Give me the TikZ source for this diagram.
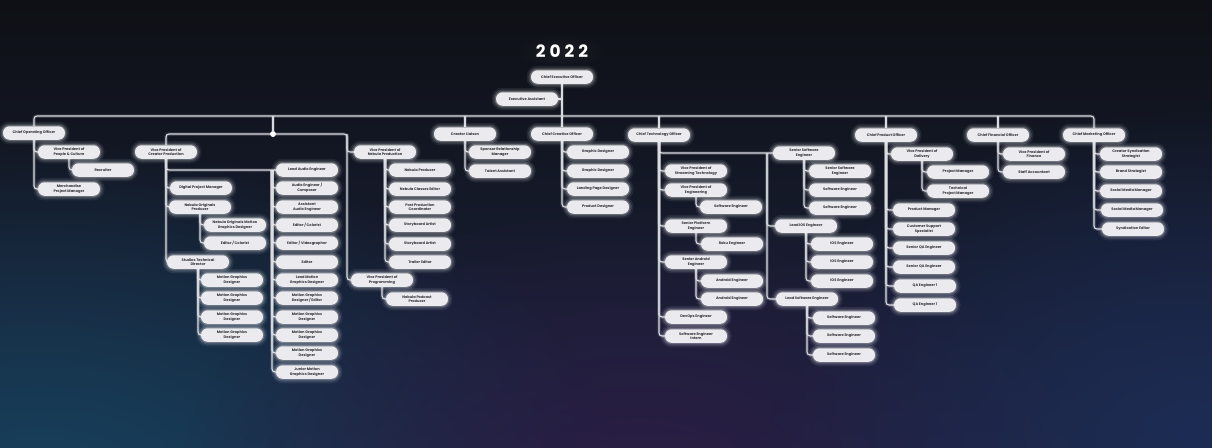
\documentclass[tikz,border=0pt]{standalone}
\usepackage{fontspec}
\setmainfont{Poppins}
\usetikzlibrary{fadings,backgrounds}
\definecolor{bgtop}{HTML}{0E1015}
\definecolor{bgmid}{HTML}{131A26}
\definecolor{bgbot}{HTML}{1C2440}
\definecolor{tealglow}{HTML}{16445F}
\definecolor{purpglow}{HTML}{2C1C44}
\definecolor{navyglow}{HTML}{1D2D56}
\definecolor{boxfill}{HTML}{EBEBEF}
\definecolor{boxtext}{HTML}{34343C}
\definecolor{linecol}{HTML}{D8DAE1}
\tikzfading[name=softglow, inner color=transparent!10, outer color=transparent!100]
\tikzset{
  orgbox/.style={fill=boxfill, text=boxtext, rounded corners=6.5pt,
    minimum width=62pt, minimum height=13.5pt, inner sep=0pt, align=center,
    font=\bfseries\fontsize{3.6}{4.6}\selectfont,
    preaction={draw=white, draw opacity=0.07, line width=9pt},
    preaction={draw=white, draw opacity=0.12, line width=5.5pt},
    preaction={draw=white, draw opacity=0.22, line width=2.5pt}},
  link/.style={draw=linecol, line width=1.1pt, rounded corners=3pt,
    preaction={draw=white, draw opacity=0.14, line width=3.5pt}}
}
\begin{document}
\begin{tikzpicture}[x=1pt,y=-1pt]
\useasboundingbox (0,0) rectangle (1212,447);
% ---------- nodes ----------
\node[font=\bfseries\fontsize{17}{17}\selectfont, text=white] (title) at (562,51) {2\hspace{4pt}0\hspace{4pt}2\hspace{4pt}2};
\node[orgbox] (ceo) at (562,77) {Chief Executive Officer};
\node[orgbox] (ea) at (527,99) {Executive Assistant};
% COO
\node[orgbox] (coo) at (34,133) {Chief Operating Officer};
\node[orgbox] (vppc) at (69,152) {Vice President of\\People \& Culture};
\node[orgbox] (recr) at (103,170) {Recruiter};
\node[orgbox] (mpm) at (69,189) {Merchandise\\Project Manager};
% Creator production
\node[circle, fill=white, inner sep=0pt, minimum size=6pt] (dot) at (273,134) {};
\node[orgbox] (vpcp) at (166,152) {Vice President of\\Creator Production};
\node[orgbox] (dpm) at (201,188) {Digital Project Manager};
\node[orgbox] (nop) at (200,207) {Nebula Originals\\Producer};
\node[orgbox] (nomgd) at (235,225) {Nebula Originals Motion\\Graphics Designer};
\node[orgbox] (ecA) at (235,243) {Editor / Colorist};
\node[orgbox] (std) at (198,262) {Studios Technical\\Director};
\node[orgbox] (mgA) at (232,280) {Motion Graphics\\Designer};
\node[orgbox] (mgB) at (232,298) {Motion Graphics\\Designer};
\node[orgbox] (mgC) at (232,317) {Motion Graphics\\Designer};
\node[orgbox] (mgD) at (232,335) {Motion Graphics\\Designer};
\node[orgbox] (lae) at (307,170) {Lead Audio Engineer};
\node[orgbox] (aec) at (307,188) {Audio Engineer /\\Composer};
\node[orgbox] (aae) at (307,207) {Assistant\\Audio Engineer};
\node[orgbox] (ecB) at (307,225) {Editor / Colorist};
\node[orgbox] (ev) at (307,243) {Editor / Videographer};
\node[orgbox] (ed) at (307,262) {Editor};
\node[orgbox] (lmg) at (307,280) {Lead Motion\\Graphics Designer};
\node[orgbox] (mge) at (307,298) {Motion Graphics\\Designer / Editor};
\node[orgbox] (mgE) at (307,317) {Motion Graphics\\Designer};
\node[orgbox] (mgF) at (307,335) {Motion Graphics\\Designer};
\node[orgbox] (mgG) at (307,353) {Motion Graphics\\Designer};
\node[orgbox] (jmg) at (307,372) {Junior Motion\\Graphics Designer};
% Nebula production
\node[orgbox] (vpnp) at (385,152) {Vice President of\\Nebula Production};
\node[orgbox] (np) at (420,170) {Nebula Producer};
\node[orgbox] (nce) at (420,189) {Nebula Classes Editor};
\node[orgbox] (ppc) at (420,207) {Post Production\\Coordinator};
\node[orgbox] (saA) at (420,225) {Storyboard Artist};
\node[orgbox] (saB) at (420,244) {Storyboard Artist};
\node[orgbox] (te) at (420,262) {Trailer Editor};
\node[orgbox] (vpprog) at (382,280) {Vice President of\\Programming};
\node[orgbox] (npp) at (417,299) {Nebula Podcast\\Producer};
% Creator liaison
\node[orgbox] (cl) at (465,134) {Creator Liaison};
\node[orgbox] (srm) at (500,152) {Sponsor Relationship\\Manager};
\node[orgbox] (ta) at (500,171) {Talent Assistant};
% CCO
\node[orgbox] (cco) at (562,134) {Chief Creative Officer};
\node[orgbox] (gdA) at (598,152) {Graphic Designer};
\node[orgbox] (gdB) at (598,171) {Graphic Designer};
\node[orgbox] (lpd) at (598,189) {Landing Page Designer};
\node[orgbox] (pd) at (598,207) {Product Designer};
% CTO
\node[orgbox] (cto) at (659,135) {Chief Technology Officer};
\node[orgbox] (vpst) at (696,171) {Vice President of\\Streaming Technology};
\node[orgbox] (vpe) at (696,190) {Vice President of\\Engineering};
\node[orgbox] (seA) at (731,207) {Software Engineer};
\node[orgbox] (spe) at (696,226) {Senior Platform\\Engineer};
\node[orgbox] (roku) at (732,244) {Roku Engineer};
\node[orgbox] (sae) at (696,262) {Senior Android\\Engineer};
\node[orgbox] (aeA) at (732,281) {Android Engineer};
\node[orgbox] (aeB) at (732,299) {Android Engineer};
\node[orgbox] (devops) at (696,317) {DevOps Engineer};
\node[orgbox] (sei) at (696,336) {Software Engineer\\Intern};
\node[orgbox] (sse) at (804,153) {Senior Software\\Engineer};
\node[orgbox] (sseB) at (840,171) {Senior Software\\Engineer};
\node[orgbox] (seB) at (840,190) {Software Engineer};
\node[orgbox] (seC) at (840,208) {Software Engineer};
\node[orgbox] (lios) at (806,226) {Lead iOS Engineer};
\node[orgbox] (iosA) at (842,244) {iOS Engineer};
\node[orgbox] (iosB) at (842,262) {iOS Engineer};
\node[orgbox] (iosC) at (842,281) {iOS Engineer};
\node[orgbox] (lse) at (807,299) {Lead Software Engineer};
\node[orgbox] (seD) at (844,318) {Software Engineer};
\node[orgbox] (seE) at (844,336) {Software Engineer};
\node[orgbox] (seF) at (844,355) {Software Engineer};
% CPO
\node[orgbox] (cpo) at (886,135) {Chief Product Officer};
\node[orgbox] (vpd) at (922,154) {Vice President of\\Delivery};
\node[orgbox] (pm) at (958,172) {Project Manager};
\node[orgbox] (tpm) at (958,191) {Technical\\Project Manager};
\node[orgbox] (prm) at (924,210) {Product Manager};
\node[orgbox] (css) at (924,229) {Customer Support\\Specialist};
\node[orgbox] (sqaA) at (924,248) {Senior QA Engineer};
\node[orgbox] (sqaB) at (924,267) {Senior QA Engineer};
\node[orgbox] (qaA) at (925,286) {QA Engineer 1};
\node[orgbox] (qaB) at (925,305) {QA Engineer 1};
% CFO
\node[orgbox] (cfo) at (998,135) {Chief Financial Officer};
\node[orgbox] (vpf) at (1034,154) {Vice President of\\Finance};
\node[orgbox] (sacc) at (1034,172) {Staff Accountant};
% CMO
\node[orgbox] (cmo) at (1094,135) {Chief Marketing Officer};
\node[orgbox] (cssA) at (1131,154) {Creator Syndication\\Strategist};
\node[orgbox] (bs) at (1131,172) {Brand Strategist};
\node[orgbox] (smmA) at (1131,191) {Social Media Manager};
\node[orgbox] (smmB) at (1132,210) {Social Media Manager};
\node[orgbox] (syned) at (1133,229) {Syndication Editor};
\coordinate (bar) at (562,116);
\coordinate (acol) at (272,170);
\coordinate (npj) at (347,134);
\coordinate (ctor) at (767,153);
% ---------- background + connectors ----------
\begin{scope}[on background layer]
  \begin{scope}
    \clip (0,0) rectangle (1212,447);
    \shade[top color=bgtop, middle color=bgmid, bottom color=bgbot] (0,0) rectangle (1212,447);
    \fill[tealglow, path fading=softglow] (40,480) ellipse [x radius=580pt, y radius=340pt];
    \fill[purpglow, path fading=softglow] (640,480) ellipse [x radius=460pt, y radius=280pt];
    \fill[navyglow, path fading=softglow] (1190,430) ellipse [x radius=420pt, y radius=330pt];
    \fill[white, opacity=0.05, path fading=softglow] (562,51) ellipse [x radius=50pt, y radius=18pt];
  \end{scope}
  % top level
  \draw[link] (ceo.south) -- (cco.north);
  \draw[link] (ea.east) -- (ea.east -| ceo.south);
  \draw[link] (coo.north) |- (bar) -| (cmo.north);
  \foreach \o in {dot,cl,cto,cpo,cfo} \draw[link] (\o.north |- bar) -- (\o.north);
  % COO
  \foreach \c in {vppc,mpm} \draw[link] (coo.south) |- (\c.west);
  \draw[link] (vppc.south) |- (recr.west);
  % creator production
  \draw[link] (vpcp.north) |- (dot) -- (npj) |- (vpprog.west);
  \draw[link] (npj) |- (vpnp.west);
  \foreach \c in {lae,dpm,nop,std} \draw[link] (vpcp.south) |- (\c.west);
  \foreach \c in {nomgd,ecA} \draw[link] (nop.south) |- (\c.west);
  \foreach \c in {mgA,mgB,mgC,mgD} \draw[link] (std.south) |- (\c.west);
  \foreach \c in {aec,aae,ecB,ev,ed,lmg,mge,mgE,mgF,mgG,jmg} \draw[link] (acol) |- (\c.west);
  % nebula production
  \foreach \c in {np,nce,ppc,saA,saB,te} \draw[link] (vpnp.south) |- (\c.west);
  \draw[link] (vpprog.south) |- (npp.west);
  % creator liaison
  \foreach \c in {srm,ta} \draw[link] (cl.south) |- (\c.west);
  % CCO
  \foreach \c in {gdA,gdB,lpd,pd} \draw[link] (cco.south) |- (\c.west);
  % CTO
  \foreach \c in {sse,vpst,vpe,spe,sae,devops,sei} \draw[link] (cto.south) |- (\c.west);
  \foreach \c in {lios,lse} \draw[link] (ctor) |- (\c.west);
  \draw[link] (vpe.south) |- (seA.west);
  \draw[link] (spe.south) |- (roku.west);
  \foreach \c in {aeA,aeB} \draw[link] (sae.south) |- (\c.west);
  \foreach \c in {sseB,seB,seC} \draw[link] (sse.south) |- (\c.west);
  \foreach \c in {iosA,iosB,iosC} \draw[link] (lios.south) |- (\c.west);
  \foreach \c in {seD,seE,seF} \draw[link] (lse.south) |- (\c.west);
  % CPO
  \foreach \c in {vpd,prm,css,sqaA,sqaB,qaA,qaB} \draw[link] (cpo.south) |- (\c.west);
  \foreach \c in {pm,tpm} \draw[link] (vpd.south) |- (\c.west);
  % CFO
  \foreach \c in {vpf,sacc} \draw[link] (cfo.south) |- (\c.west);
  % CMO
  \foreach \c in {cssA,bs,smmA,smmB,syned} \draw[link] (cmo.south) |- (\c.west);
\end{scope}
\end{tikzpicture}
\end{document}
